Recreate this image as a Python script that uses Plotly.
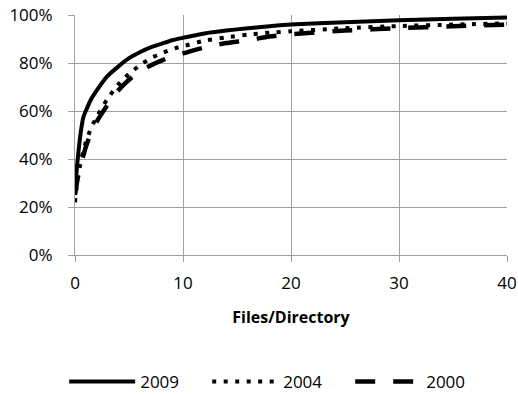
import plotly.graph_objects as go

files = [0, 0.25, 0.5, 0.75, 1, 1.5, 2, 3, 4, 5, 6, 7, 8, 9, 10, 12, 14, 16, 18, 20, 25, 30, 35, 40]
y2009 = [27, 40, 50, 57, 60, 65, 68.5, 74.5, 78.5, 82, 84.5, 86.5, 88, 89.5, 90.5, 92.3, 93.5, 94.5, 95.3, 96, 97, 97.8, 98.4, 99]
y2004 = [22, 32, 38, 43, 47, 53, 57.5, 65, 71, 75.5, 79, 82, 84, 85.8, 87, 89.3, 90.7, 91.8, 92.6, 93.2, 94.5, 95.4, 96, 96.5]
y2000 = [25, 32, 37, 41, 45, 51, 55.5, 62.5, 68.5, 73, 76.5, 79, 81, 82.8, 84, 86.5, 88.3, 89.5, 91, 92, 93.5, 94.5, 95.3, 96]

series = [("2009", y2009, "solid", 4), ("2004", y2004, "4px,7.5px", 4), ("2000", y2000, "20px,18px", 4.5)]

font = "Open Sans"
fs = 17
fig = go.Figure()
for name, ys, dash, w in series:
    fig.add_trace(go.Scatter(x=files, y=[v / 100 for v in ys], mode="lines", name=name,
                             line=dict(color="black", width=w, dash=dash, shape="spline", smoothing=0.6)))

fig.update_layout(
    width=518, height=395,
    margin=dict(l=75, r=11, t=15, b=140),
    paper_bgcolor="white", plot_bgcolor="white",
    font=dict(family=font, size=fs, color="black"),
    showlegend=True,
    legend=dict(orientation="h", xref="container", yref="container", x=0.538, xanchor="center",
                y=0.033, yanchor="middle", font=dict(size=fs), itemwidth=66, entrywidth=62,
                bgcolor="rgba(0,0,0,0)"),
    xaxis=dict(range=[0, 40], tickvals=[0, 10, 20, 30, 40], showgrid=True, gridcolor="#A0A0A0",
               gridwidth=1, zeroline=False, showline=True, linecolor="#A0A0A0", ticks="outside",
               ticklen=6, tickcolor="#A0A0A0", ticklabelstandoff=7, automargin=False,
               title=dict(text="<b>Files/Directory</b>", font=dict(size=fs - 1), standoff=18)),
    yaxis=dict(range=[0, 1], tickvals=[0, 0.2, 0.4, 0.6, 0.8, 1.0], tickformat=".0%",
               showgrid=True, gridcolor="#A0A0A0", gridwidth=1, zeroline=False, showline=True,
               linecolor="#A0A0A0", ticks="outside", ticklen=6, tickcolor="#A0A0A0",
               ticklabelstandoff=12, automargin=False),
)
fig.write_html("out.html")
